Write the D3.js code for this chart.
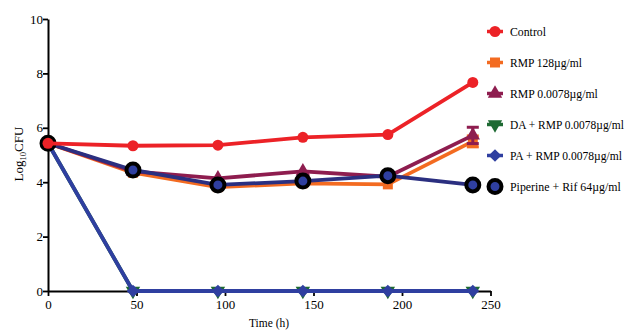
<!DOCTYPE html>
<html><head><meta charset="utf-8">
<script src="https://cdn.jsdelivr.net/npm/d3@7"></script>
<style>body{margin:0;background:#fff}svg{display:block}</style>
</head><body><svg id="c" width="631" height="332" font-family="'Liberation Serif', 'Times New Roman', Times, serif"></svg>
<script>
const times = [0, 48, 96, 144, 192, 240];
const xTicks = [0, 50, 100, 150, 200, 250];
const yTicks = [0, 2, 4, 6, 8, 10];
const seriesNames = ["Control", "RMP 128µg/ml", "RMP 0.0078µg/ml", "DA + RMP 0.0078µg/ml", "PA + RMP 0.0078µg/ml", "Piperine + Rif 64µg/ml"];
const control   = [5.43, 5.34, 5.36, 5.65, 5.75, 7.67];
const rmp128    = [5.43, 4.35, 3.82, 3.96, 3.92, 5.50];
const rmp0078   = [5.43, 4.40, 4.14, 4.40, 4.20, 5.72];
const daRmp     = [5.43, 0, 0, 0, 0, 0];
const paRmp     = [5.43, 0, 0, 0, 0, 0];
const piperine  = [5.43, 4.45, 3.90, 4.04, 4.24, 3.90];
const rmp128Err  = [0, 0, 0, 0, 0, 0.2];
const rmp0078Err = [0, 0, 0, 0, 0, 0.3];

const colors = ["#ec2227", "#f36b21", "#8e1d4f", "#1e6a33", "#2f3fa0", "#2b2f80"];
const shapes = ["circle", "square", "triangle", "triangleDown", "diamond", "ring"];
const values = [control, rmp128, rmp0078, daRmp, paRmp, piperine];
const errs = [null, rmp128Err, rmp0078Err, null, null, null];
const legendWidths = [36, 72, 88, 114, 112, 111];
const FONT = "'Liberation Serif', 'Times New Roman', Times, serif";

const svg = d3.select("#c");
const x = d3.scaleLinear().domain([0, 250]).range([48, 490.5]);
const y = d3.scaleLinear().domain([0, 10]).range([291, 19]);

const xa = svg.append("g").attr("transform", "translate(0,291)")
  .call(d3.axisBottom(x).tickValues(xTicks).tickSize(5).tickSizeOuter(0));
const ya = svg.append("g").attr("transform", "translate(48,0)")
  .call(d3.axisLeft(y).tickValues(yTicks).tickSize(5).tickSizeOuter(0));
[xa, ya].forEach(a => {
  a.attr("font-family", FONT);
  a.select(".domain").attr("stroke", "#000").attr("stroke-width", 2);
  a.selectAll(".tick line").attr("stroke", "#000").attr("stroke-width", 1.8);
  a.selectAll(".tick text").attr("fill", "#000").attr("font-family", FONT).style("font-size", "13px");
});
ya.selectAll(".tick text").attr("x", -5);
xa.selectAll(".tick text").attr("y", 9);

function fitText(sel, tx, ty, width) {
  const w = sel.node().getComputedTextLength();
  sel.attr("transform", `translate(${tx},${ty}) scale(${width / w},1)`);
}

const tl = svg.append("text").attr("text-anchor", "middle").attr("font-family", FONT)
  .style("font-size", "13px").text("Time (h)");
fitText(tl, 269, 327, 40);
const yl = svg.append("text").attr("transform", "translate(23,154) rotate(-90)").attr("font-family", FONT)
  .attr("text-anchor", "middle").style("font-size", "13px");
yl.append("tspan").text("Log");
yl.append("tspan").attr("font-size", "8.5px").attr("dy", 3).text("10");
yl.append("tspan").attr("dy", -3).text("CFU");

function drawMarker(g, shape, color, cx, cy, s) {
  if (shape === "circle") g.append("circle").attr("cx", cx).attr("cy", cy).attr("r", 5.5 * s).attr("fill", color);
  else if (shape === "square") g.append("rect").attr("x", cx - 5 * s).attr("y", cy - 5 * s).attr("width", 10 * s).attr("height", 10 * s).attr("fill", color);
  else if (shape === "triangle") g.append("path").attr("d", d3.symbol(d3.symbolTriangle, 90 * s * s)()).attr("transform", `translate(${cx},${cy})`).attr("fill", color);
  else if (shape === "triangleDown") g.append("path").attr("d", d3.symbol(d3.symbolTriangle, 90 * s * s)()).attr("transform", `translate(${cx},${cy}) rotate(180)`).attr("fill", color);
  else if (shape === "diamond") g.append("path").attr("d", d3.symbol(d3.symbolSquare, 80 * s * s)()).attr("transform", `translate(${cx},${cy}) rotate(45)`).attr("fill", color);
  else if (shape === "ring") {
    g.append("circle").attr("cx", cx).attr("cy", cy).attr("r", 6.5 * s).attr("fill", "#2f3fa0").attr("stroke", "#000").attr("stroke-width", 4 * s);
  }
}

const line = d3.line().x((d, i) => x(times[i])).y(d => y(d));
const order = [1, 2, 3, 4, 5, 0];
order.forEach(k => {
  const g = svg.append("g");
  g.append("path").datum(values[k]).attr("d", line).attr("fill", "none")
    .attr("stroke", colors[k]).attr("stroke-width", 3.8).attr("stroke-linejoin", "round");
  if (errs[k]) {
    values[k].forEach((v, i) => {
      const e = errs[k][i];
      if (e > 0) {
        const cx = x(times[i]);
        g.append("line").attr("x1", cx).attr("x2", cx).attr("y1", y(v - e)).attr("y2", y(v + e)).attr("stroke", colors[k]).attr("stroke-width", 3);
        [v - e, v + e].forEach(vv => g.append("line").attr("x1", cx - 6).attr("x2", cx + 6).attr("y1", y(vv)).attr("y2", y(vv)).attr("stroke", colors[k]).attr("stroke-width", 3));
      }
    });
  }
  values[k].forEach((v, i) => drawMarker(g, shapes[k], colors[k], x(times[i]), y(v), 1));
});

const lg = svg.append("g");
seriesNames.forEach((n, k) => {
  const yy = 31.5 + k * 31;
  lg.append("line").attr("x1", 487).attr("x2", 503).attr("y1", yy).attr("y2", yy)
    .attr("stroke", k === 5 ? "#2b2f80" : colors[k]).attr("stroke-width", 3.5);
  drawMarker(lg, shapes[k], colors[k], 495, yy, 1);
  const t = lg.append("text").attr("font-family", FONT).style("font-size", "13px").attr("fill", "#000").text(n);
  fitText(t, 510, yy + 4.5, legendWidths[k]);
});
</script></body></html>
